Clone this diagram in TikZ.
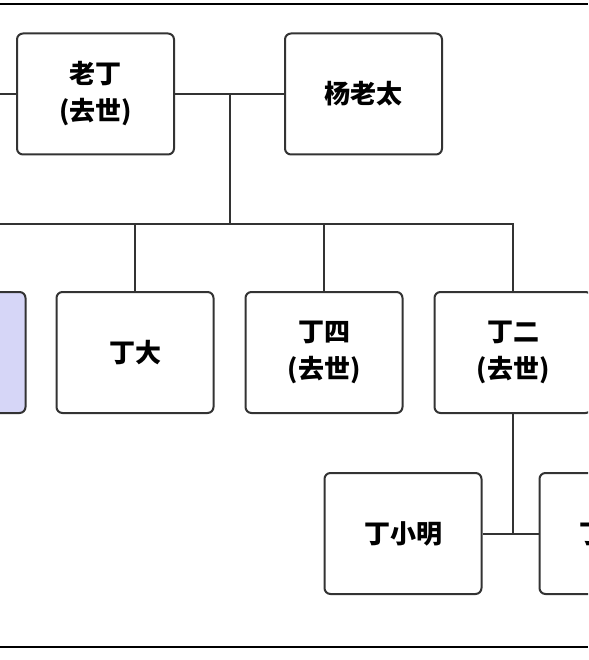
\documentclass[tikz,border=0pt]{standalone}
\usepackage{fontspec}
\newfontfamily\cjk{Noto Sans CJK SC}
\usepackage{tikz}
\usetikzlibrary{positioning}
\definecolor{linegray}{RGB}{51,51,51}
\definecolor{paleblue}{RGB}{214,214,247}

\begin{document}
\begin{tikzpicture}[
    x=1pt, y=-1pt,
    person/.style={rectangle, rounded corners=6pt, minimum width=157pt, minimum height=121pt, text centered, draw=linegray, line width=2pt, fill=white, align=center, font=\cjk\bfseries\fontsize{26}{37}\selectfont},
    link/.style={draw=linegray, line width=2pt},
    frameline/.style={draw=black, line width=2.5pt}
]

\useasboundingbox (0,0) rectangle (588,660);
\clip (0,0) rectangle (588,660);

% 第一层：父母
\node (laoding) [person] at (95.5,94) {老丁\\(去世)};
\node (yang) [person, right=109pt of laoding] {杨老太};

% 第二层：子女
\node (dingda) [person] at (135,352.5) {丁大};
\node (left) [person, fill=paleblue, left=29pt of dingda] {};
\node (dingsi) [person, right=30pt of dingda] {丁四\\(去世)};
\node (dinger) [person, right=30pt of dingsi] {丁二\\(去世)};

% 第三层：孙辈
\node (xiaoming) [person] at (403,533.5) {丁小明};
\node (other) [person, right=56pt of xiaoming] {丁\phantom{小明}};

% 画面外的端点
\coordinate (stub) at (-10,94);
\coordinate (bus) at (-10,224);

% 连线
\draw [link] (laoding) -- (stub);
\draw [link] (laoding) -- coordinate (couple) (yang);
\draw [link] (couple) -- (couple |- bus);
\draw [link] (bus) -| (dinger.north);
\draw [link] (dingda.north) -- (dingda.north |- bus);
\draw [link] (dingsi.north) -- (dingsi.north |- bus);
\draw [link] (xiaoming) -- coordinate (kids) (other);
\draw [link] (dinger.south) -- (dinger.south |- kids);

% 上下边框
\draw [frameline] (0,4) -- (588,4);
\draw [frameline] (0,647) -- (588,647);

\end{tikzpicture}
\end{document}
